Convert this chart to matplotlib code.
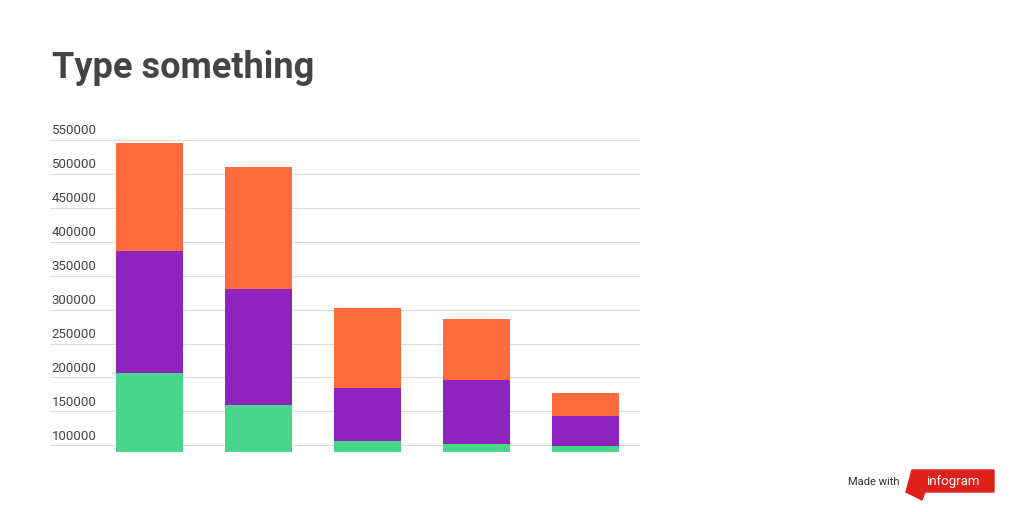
import matplotlib.pyplot as plt
from matplotlib.patches import Polygon
from matplotlib.transforms import blended_transform_factory

plt.rcParams['font.family'] = ['Roboto', 'DejaVu Sans']

categories = ['A', 'B', 'C', 'D', 'E']
green = [206000, 160000, 106000, 101500, 98500]
purple = [180000, 170000, 79000, 94500, 44500]
orange = [159000, 180000, 118000, 90000, 34000]
yticks = [100000, 150000, 200000, 250000, 300000, 350000, 400000, 450000, 500000, 550000]

fig = plt.figure(figsize=(10.24, 5.12), dpi=100)
ax = fig.add_axes([50/1024, 0.117, 590/1024, 0.616])

x = range(len(categories))
w = 0.615
ax.bar(x, green, w, color='#48d68a', zorder=2)
bot = green
ax.bar(x, purple, w, bottom=bot, color='#8e24bd', zorder=2)
bot = [a + b for a, b in zip(green, purple)]
ax.bar(x, orange, w, bottom=bot, color='#ff6b3b', zorder=2)

ax.set_xlim(-0.913, 4.5)
ax.set_ylim(90000, 555000)
for s in ax.spines.values():
    s.set_visible(False)
ax.set_xticks([])
ax.set_yticks([])
tr = blended_transform_factory(ax.transAxes, ax.transData)
for t in yticks:
    ax.axhline(t, color='#dddddd', lw=0.8, zorder=1)
    ax.text(0.003, t + 4000, str(t), transform=tr, fontsize=9.5, color='#444444', va='bottom', ha='left')

fig.text(52/1024, 1 - 68/512, 'Type something', fontsize=26, fontweight='bold', color='#444444', va='center')

fig.text(848/1024, 1 - 482/512, 'Made with', fontsize=8, color='#333333', va='center')
logo = Polygon([[912/1024, 1 - 470/512], [994/1024, 1 - 470/512], [994/1024, 1 - 492/512],
                [925/1024, 1 - 492/512], [922/1024, 1 - 500/512], [906/1024, 1 - 492/512]],
               closed=True, transform=fig.transFigure, color='#e0201b')
fig.patches.append(logo)
fig.text(953/1024, 1 - 481/512, 'infogram', fontsize=9.5, color='white', va='center', ha='center')

fig.savefig('out.png')
